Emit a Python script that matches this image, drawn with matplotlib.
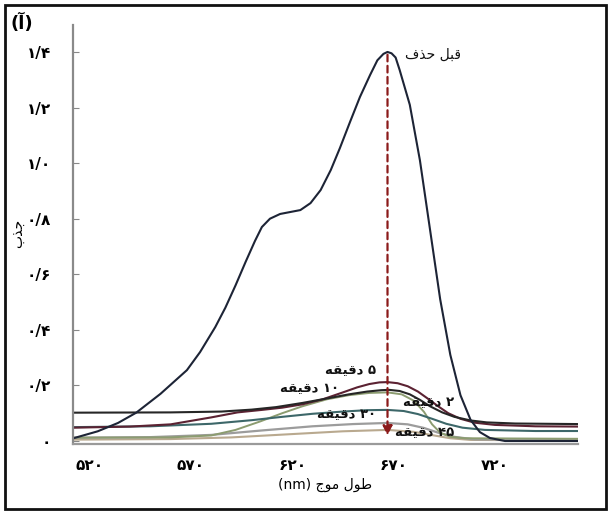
import matplotlib
matplotlib.use("Agg")
import matplotlib.pyplot as plt
from matplotlib.patches import Rectangle

# Persian text is written in presentation forms, visual (left-to-right) order,
# since matplotlib does no Arabic shaping.
DAQIQE = "\uFEEA\uFED8\uFEF4\uFED7\uFEA9"          # دقیقه
BEFORE = "\uFED1\uFEAC\uFEA3 \uFEDE\uFE92\uFED7"    # قبل حذف
XLABEL = "(nm) \uFE9D\uFEEE\uFEE3 \uFEDD\uFEEE\uFEC3"  # طول موج (nm)
YLABEL = "\uFE8F\uFEAC\uFE9F"                        # جذب

# before removal
wl_before = [512, 524, 534, 543, 555, 568, 574.5, 582, 587, 592, 597, 601.6, 605,
             609, 614, 619, 624, 629, 634, 639, 643.5, 648.5, 653.4, 658.4, 662,
             665, 667, 669, 671, 673, 678, 683, 688, 693, 698, 703, 708, 712.6,
             717.5, 725, 761]
abs_before = [0.01, 0.035, 0.065, 0.102, 0.17, 0.255, 0.32, 0.41, 0.48, 0.56, 0.645,
              0.72, 0.77, 0.80, 0.817, 0.824, 0.831, 0.856, 0.903, 0.975, 1.054,
              1.148, 1.238, 1.317, 1.37, 1.393, 1.40, 1.395, 1.38, 1.335, 1.21,
              1.01, 0.76, 0.51, 0.31, 0.165, 0.076, 0.032, 0.011, 0.0, 0.0]

# after removal curves
wl_2 = [512, 560, 585, 600, 612, 625, 637, 648, 657, 664, 668, 673, 678, 683, 688,
        694, 700, 708, 716, 730, 761]
abs_2 = [0.102, 0.103, 0.106, 0.113, 0.122, 0.137, 0.153, 0.168, 0.178, 0.183,
         0.184, 0.18, 0.168, 0.148, 0.125, 0.103, 0.087, 0.074, 0.067, 0.063, 0.061]

wl_5 = [512, 540, 560, 580, 593, 605, 615, 625, 635, 645, 652, 658, 663, 667, 672,
        677, 682, 687, 692, 697, 703, 710, 720, 740, 761]
abs_5 = [0.048, 0.052, 0.06, 0.085, 0.103, 0.112, 0.12, 0.132, 0.15, 0.175, 0.193,
         0.205, 0.211, 0.212, 0.208, 0.197, 0.178, 0.152, 0.125, 0.10, 0.08, 0.066,
         0.058, 0.053, 0.052]

wl_10 = [512, 560, 580, 592, 604, 615, 625, 637, 648, 658, 667, 674, 680, 685, 689,
         693, 698, 705, 761]
abs_10 = [0.012, 0.013, 0.02, 0.04, 0.07, 0.10, 0.125, 0.15, 0.165, 0.173, 0.175,
          0.168, 0.145, 0.105, 0.06, 0.03, 0.015, 0.01, 0.008]

wl_30 = [512, 550, 580, 600, 615, 630, 645, 657, 667, 675, 682, 689, 696, 704, 715,
         740, 761]
abs_30 = [0.05, 0.053, 0.062, 0.075, 0.087, 0.098, 0.106, 0.111, 0.112, 0.108,
          0.097, 0.08, 0.062, 0.048, 0.04, 0.036, 0.036]

wl_45 = [512, 550, 580, 605, 630, 650, 667, 677, 685, 692, 700, 710, 761]
abs_45 = [0.012, 0.014, 0.022, 0.038, 0.053, 0.061, 0.065, 0.06, 0.047, 0.03, 0.015,
          0.006, 0.003]

wl_60 = [512, 560, 590, 620, 645, 667, 680, 690, 698, 708, 761]
abs_60 = [0.005, 0.007, 0.013, 0.025, 0.035, 0.04, 0.033, 0.02, 0.01, 0.004, 0.002]

xticks = [520, 570, 620, 670, 720]
xticklabels = ["\u06F5\u06F2\u06F0", "\u06F5\u06F7\u06F0", "\u06F6\u06F2\u06F0",
               "\u06F6\u06F7\u06F0", "\u06F7\u06F2\u06F0"]
yticks = [0, 0.2, 0.4, 0.6, 0.8, 1.0, 1.2, 1.4]
yticklabels = ["\u06F0", "\u06F0/\u06F2", "\u06F0/\u06F4", "\u06F0/\u06F6",
               "\u06F0/\u06F8", "\u06F1/\u06F0", "\u06F1/\u06F2", "\u06F1/\u06F4"]

fig = plt.figure(figsize=(6.1, 5.12), dpi=100)
ax = fig.add_axes([0.1197, 0.1332, 0.8278, 0.818])

ax.plot(wl_60, abs_60, color="#b9a98f", lw=1.5)
ax.plot(wl_45, abs_45, color="#9c9c9c", lw=1.6)
ax.plot(wl_10, abs_10, color="#8c9c70", lw=1.4)
ax.plot(wl_30, abs_30, color="#3d6769", lw=1.5)
ax.plot(wl_5, abs_5, color="#5b2232", lw=1.5)
ax.plot(wl_2, abs_2, color="#262626", lw=1.5)
ax.plot(wl_before, abs_before, color="#1d2436", lw=1.5)

# red dashed arrow at the peak
ax.annotate("", xy=(667, 0.01), xytext=(667, 1.40),
            arrowprops=dict(arrowstyle="-|>", color="#8b1a1a", lw=1.6,
                            linestyle=(0, (3, 2)), mutation_scale=14))

ax.text(675.5, 1.39, BEFORE, fontsize=10, ha="left", va="center", color="#111")
lbl = dict(fontsize=9.5, ha="left", va="center", color="#111", fontweight="bold")
ax.text(636, 0.255, DAQIQE + " \u06F5", **lbl)
ax.text(614, 0.19, DAQIQE + " \u06F1\u06F0", **lbl)
ax.text(674.5, 0.14, DAQIQE + " \u06F2", **lbl)
ax.text(632, 0.094, DAQIQE + " \u06F3\u06F0", **lbl)
ax.text(670.5, 0.032, DAQIQE + " \u06F4\u06F5", **lbl)

ax.set_xlim(511.8, 761)
ax.set_ylim(-0.01, 1.497)
ax.set_xticks(xticks)
ax.set_xticklabels(xticklabels, fontsize=11, fontweight="bold")
ax.set_yticks(yticks)
ax.set_yticklabels(yticklabels, fontsize=11, fontweight="bold")
ax.tick_params(axis="x", length=0, pad=10)
ax.tick_params(axis="y", direction="in", length=4, color="#888", pad=16)
ax.set_xlabel(XLABEL, fontsize=10, labelpad=4)

for s in ["top", "right"]:
    ax.spines[s].set_visible(False)
ax.spines["left"].set_color("#8a8a8a")
ax.spines["left"].set_linewidth(1.6)
ax.spines["bottom"].set_color("#9a9a9a")
ax.spines["bottom"].set_linewidth(1.6)

fig.text(0.018, 0.955, "(\u0622)", fontsize=13, fontweight="bold", ha="left", va="center")
fig.text(0.03, 0.545, YLABEL, fontsize=10, rotation=90, ha="center", va="center")

fig.add_artist(Rectangle((0.008, 0.006), 0.985, 0.985, transform=fig.transFigure,
                         fill=False, lw=2, edgecolor="#111"))

fig.savefig("out.png", dpi=100)
